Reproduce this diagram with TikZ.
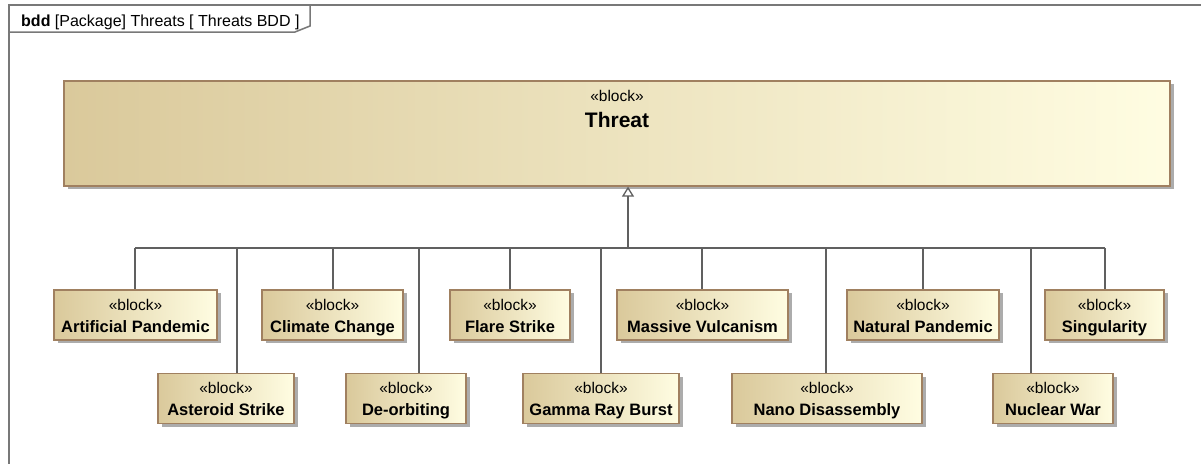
\documentclass[tikz,border=0pt]{standalone}
\usepackage{fontspec}
\setmainfont{Liberation Sans}
\usetikzlibrary{arrows.meta,shadows}

\definecolor{blockL}{RGB}{218,201,155}
\definecolor{blockR}{RGB}{255,253,226}
\definecolor{blockborder}{RGB}{160,128,96}
\definecolor{shadowgray}{RGB}{172,172,172}
\definecolor{linegray}{RGB}{96,96,96}
\definecolor{framegray}{RGB}{120,120,120}

\tikzset{
  block/.style={draw=blockborder, line width=1.3pt,
    left color=blockL, right color=blockR,
    drop shadow={shadow xshift=4pt, shadow yshift=-3pt, fill=shadowgray, opacity=1},
    align=center, inner sep=0pt},
  smallblock/.style={block, minimum height=50pt,
    font=\fontsize{16.5}{22}\selectfont},
  gen/.style={draw=linegray, line width=1.3pt},
  frameline/.style={draw=framegray, line width=1.5pt}
}

% two-line block label: stereotype above, bold name below, fixed baselines
\newcommand{\blk}[1]{{\fontsize{15.5}{22}\selectfont\rule{0pt}{19pt}«block»}\\\strut\textbf{#1}}

\begin{document}
\begin{tikzpicture}[x=1pt,y=-1pt]
\useasboundingbox (0,0) rectangle (1201,463);
\fill[white] (0,0) rectangle (1201,463);

% diagram frame and its name tab
\draw[frameline] (9,475) -- (9,5) -- (1215,5);
\draw[frameline] (9,32) -- (295,32) -- (310,26) -- (310,5);
\node[anchor=base west, inner sep=0pt, font=\fontsize{16}{18}\selectfont] (title) at (21,26)
  {\textbf{bdd} [Package] Threats [ Threats BDD ]};

% general block
\node[block, minimum width=1106pt, minimum height=105pt] (T) at (617,133.5) {};
\node[anchor=base, inner sep=0pt, font=\fontsize{15.5}{18}\selectfont] (Tstereo) at (617,101) {«block»};
\node[anchor=base, inner sep=0pt, font=\fontsize{21}{24}\selectfont\bfseries] (Tname) at (617,127) {Threat};

% specialised blocks, upper row
\node[smallblock, minimum width=163pt] (AP) at (135.5,315) {\blk{Artificial Pandemic}};
\node[smallblock, minimum width=141pt] (CC) at (332.5,315) {\blk{Climate Change}};
\node[smallblock, minimum width=120pt] (FS) at (510,315)   {\blk{Flare Strike}};
\node[smallblock, minimum width=171pt] (MV) at (702.5,315) {\blk{Massive Vulcanism}};
\node[smallblock, minimum width=152pt] (NP) at (923,315)   {\blk{Natural Pandemic}};
\node[smallblock, minimum width=119pt] (SI) at (1104.5,315){\blk{Singularity}};

% specialised blocks, lower row
\node[smallblock, minimum width=136pt] (AS) at (226,398.5)  {\blk{Asteroid Strike}};
\node[smallblock, minimum width=120pt] (DO) at (406,398.5)  {\blk{De-orbiting}};
\node[smallblock, minimum width=156pt] (GR) at (601,398.5)  {\blk{Gamma Ray Burst}};
\node[smallblock, minimum width=190pt] (ND) at (827,398.5)  {\blk{Nano Disassembly}};
\node[smallblock, minimum width=120pt] (NW) at (1053,398.5) {\blk{Nuclear War}};

% generalisation tree: junction points on the shared bus
\coordinate (hub) at (628,248);
\coordinate (jAP) at (135,248);
\coordinate (jAS) at (237,248);
\coordinate (jCC) at (333,248);
\coordinate (jDO) at (419,248);
\coordinate (jFS) at (510,248);
\coordinate (jGR) at (601,248);
\coordinate (jMV) at (702,248);
\coordinate (jND) at (826,248);
\coordinate (jNP) at (923,248);
\coordinate (jNW) at (1031,248);
\coordinate (jSI) at (1105,248);

\draw[gen] (jAP) -- (jSI);
\draw[gen, -{Triangle[open, width=12pt, length=10pt]}] (hub) -- (hub |- T.south);
\foreach \n in {AP,AS,CC,DO,FS,GR,MV,ND,NP,NW,SI}
  \draw[gen] (j\n) -- (j\n |- \n.north);
\end{tikzpicture}
\end{document}
